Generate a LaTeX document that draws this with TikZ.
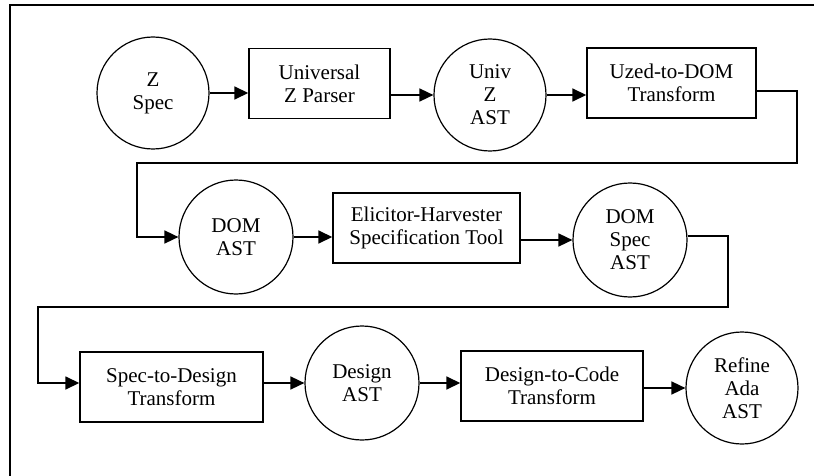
\documentclass[tikz,border=0pt]{standalone}
\usepackage{fontspec}
\setmainfont{Liberation Serif}
\usetikzlibrary{arrows.meta}
\tikzset{
  flow/.style={line width=0.8pt},
  arr/.style={flow,-{Triangle[length=7pt,width=6.5pt]}},
  bubble/.style={circle,draw,line width=0.6pt,minimum size=56pt,inner sep=0pt,align=center,
    font=\fontsize{10.5}{11.5}\selectfont},
  procbox/.style={rectangle,draw,line width=0.7pt,minimum height=35pt,inner sep=0pt,align=center,
    font=\fontsize{10.5}{11.5}\selectfont},
}
\begin{document}
\begin{tikzpicture}[x=0.5pt,y=-0.5pt]
\useasboundingbox (0,0) rectangle (814,476);
% frame (top and left edges visible)
\draw[line width=1pt] (10,476) -- (10,5) -- (814,5);

% row 1
\node[bubble] (zspec) at (153,93) {Z\\Spec};
\node[procbox,minimum width=70.5pt] (parser) at (319.5,83.5) {Universal\\Z Parser};
\node[bubble] (univ) at (490,95) {Univ\\Z\\AST};
\node[procbox,minimum width=84.5pt] (uzed) at (671.5,83) {Uzed-to-DOM\\Transform};

% row 2
\node[bubble,minimum size=57pt] (domast) at (236,237) {DOM\\AST};
\node[procbox,minimum width=93.5pt] (elicit) at (426.5,228) {Elicitor-Harvester\\Specification Tool};
\node[bubble,minimum size=57pt] (domspec) at (630,240) {DOM\\Spec\\AST};

% row 3
\node[procbox,minimum width=91.5pt] (s2d) at (171.5,387) {Spec-to-Design\\Transform};
\node[bubble,minimum size=57pt] (design) at (362,383) {Design\\AST};
\node[procbox,minimum width=91pt] (d2c) at (552,386) {Design-to-Code\\Transform};
\node[bubble] (refine) at (742,388) {Refine\\Ada\\AST};

% bend points
\coordinate (k1) at (797,163);
\coordinate (k2) at (137,163);
\coordinate (k3) at (728,307);
\coordinate (k4) at (38,307);

% connectors
\draw[arr] (zspec) -- (zspec -| parser.west);
\draw[arr] (parser.east |- univ) -- (univ);
\draw[arr] (univ) -- (univ -| uzed.west);
\draw[arr] ([yshift=-4pt]uzed.east) -| (k1) -- (k2) |- (domast);
\draw[arr] (domast) -- (domast -| elicit.west);
\draw[arr] (elicit.east |- domspec) -- (domspec);
\draw[arr] ([yshift=2pt]domspec.east) -| (k3) -- (k4) |- (s2d.west |- design);
\draw[arr] (s2d.east |- design) -- (design);
\draw[arr] (design) -- (design -| d2c.west);
\draw[arr] (d2c.east |- refine) -- (refine);
\end{tikzpicture}
\end{document}
